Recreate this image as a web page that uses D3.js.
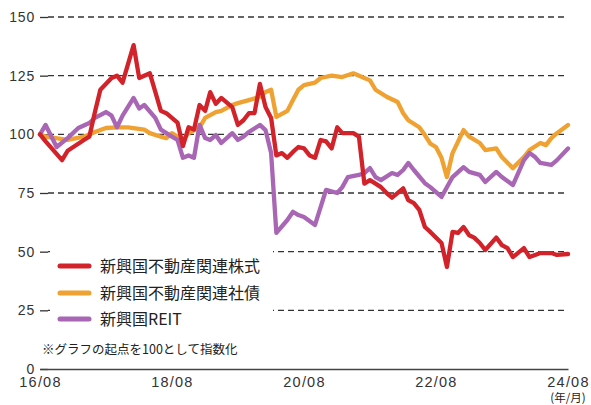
<!DOCTYPE html>
<html>
<head>
<meta charset="utf-8">
<script src="https://cdn.jsdelivr.net/npm/d3@7"></script>
<style>
  body { margin: 0; background: #fff; }
  .tick text { font-family: "Liberation Sans", Arial, sans-serif; fill: #333; }
  .jp { font-family: "Noto Sans CJK JP", sans-serif; fill: #222; }
</style>
</head>
<body>
<div id="chart"></div>
<script>
// Series data: [year-month, index value]
const stockSeries = [
  ["2016-08", 100], ["2016-09", 97], ["2016-12", 89], ["2017-01", 93], ["2017-04", 97.6],
  ["2017-05", 99], ["2017-06", 109.5], ["2017-07", 119], ["2017-09", 124], ["2017-10", 125],
  ["2017-11", 122], ["2018-01", 138], ["2018-02", 124], ["2018-04", 126], ["2018-06", 110],
  ["2018-07", 109], ["2018-09", 105], ["2018-10", 95], ["2018-11", 103], ["2018-12", 102],
  ["2019-01", 112.5], ["2019-02", 110], ["2019-03", 118], ["2019-04", 113], ["2019-05", 115.5],
  ["2019-07", 111.6], ["2019-08", 104], ["2019-09", 106], ["2019-10", 109], ["2019-11", 109],
  ["2019-12", 121.5], ["2020-01", 111.6], ["2020-02", 107], ["2020-03", 91], ["2020-04", 92],
  ["2020-05", 90], ["2020-06", 92.5], ["2020-07", 94.6], ["2020-08", 94], ["2020-09", 91],
  ["2020-10", 90], ["2020-11", 97.6], ["2020-12", 97], ["2021-01", 94], ["2021-02", 103],
  ["2021-03", 100.5], ["2021-05", 100.5], ["2021-06", 99], ["2021-07", 79], ["2021-08", 80.5],
  ["2021-09", 79], ["2021-10", 77.5], ["2021-11", 75], ["2021-12", 73], ["2022-02", 77],
  ["2022-03", 72], ["2022-04", 70.7], ["2022-05", 67.8], ["2022-06", 60.5], ["2022-07", 58.4],
  ["2022-08", 56], ["2022-09", 53.7], ["2022-10", 43.5], ["2022-11", 58.4], ["2022-12", 58],
  ["2023-01", 60.5], ["2023-02", 57], ["2023-03", 56], ["2023-04", 53.7], ["2023-05", 50.7],
  ["2023-07", 56], ["2023-08", 52.8], ["2023-09", 51.5], ["2023-10", 47.7], ["2023-12", 51.5],
  ["2024-01", 47.7], ["2024-02", 48.6], ["2024-03", 49.4], ["2024-05", 49.4], ["2024-06", 48.6],
  ["2024-08", 49]
];

const bondSeries = [
  ["2016-08", 100], ["2016-09", 99], ["2017-01", 97.6], ["2017-04", 99], ["2017-06", 101],
  ["2017-08", 102.7], ["2017-10", 103], ["2017-12", 103], ["2018-03", 102], ["2018-04", 100.5],
  ["2018-06", 99], ["2018-07", 98.4], ["2018-08", 100.5], ["2018-10", 97.6], ["2018-11", 100.5],
  ["2019-01", 103], ["2019-02", 107], ["2019-04", 109.5], ["2019-05", 110], ["2019-07", 112.5],
  ["2019-08", 113.3], ["2019-10", 114.6], ["2019-12", 116], ["2020-01", 118], ["2020-02", 119],
  ["2020-03", 107.4], ["2020-05", 110], ["2020-06", 114.6], ["2020-07", 119], ["2020-08", 121],
  ["2020-10", 122], ["2020-11", 124], ["2021-01", 125], ["2021-03", 124.4], ["2021-05", 126],
  ["2021-07", 124], ["2021-08", 123], ["2021-09", 119], ["2021-11", 116], ["2022-01", 113.8],
  ["2022-02", 109], ["2022-03", 106], ["2022-05", 103], ["2022-06", 99.7], ["2022-07", 96],
  ["2022-08", 94.6], ["2022-09", 90], ["2022-10", 81.8], ["2022-11", 92], ["2023-01", 101.8],
  ["2023-02", 99], ["2023-04", 96.3], ["2023-05", 93.3], ["2023-07", 94], ["2023-08", 90.3],
  ["2023-10", 85.6], ["2023-12", 90.3], ["2024-01", 93.3], ["2024-03", 96.3], ["2024-04", 95.4],
  ["2024-05", 98.4], ["2024-06", 100.5], ["2024-08", 104]
];

const reitSeries = [
  ["2016-08", 100], ["2016-09", 104], ["2016-11", 94.6], ["2017-01", 98.4], ["2017-03", 102.7],
  ["2017-05", 104.8], ["2017-06", 107], ["2017-08", 109.5], ["2017-09", 108], ["2017-10", 103],
  ["2017-11", 108], ["2018-01", 115.5], ["2018-02", 111], ["2018-03", 112.5], ["2018-05", 107],
  ["2018-06", 102], ["2018-08", 99], ["2018-09", 97.6], ["2018-10", 90], ["2018-11", 91],
  ["2018-12", 90], ["2019-01", 104], ["2019-02", 98.4], ["2019-03", 97.6], ["2019-04", 99.7],
  ["2019-05", 96.3], ["2019-07", 100.5], ["2019-08", 97.6], ["2019-09", 99], ["2019-10", 101],
  ["2019-12", 104], ["2020-01", 101.8], ["2020-02", 92], ["2020-03", 58], ["2020-05", 63.5],
  ["2020-06", 67], ["2020-07", 65.6], ["2020-08", 64.8], ["2020-10", 61.4], ["2020-11", 69],
  ["2020-12", 76.3], ["2021-02", 75], ["2021-03", 77.5], ["2021-04", 81.8], ["2021-06", 82.7],
  ["2021-07", 83.5], ["2021-08", 85.6], ["2021-09", 81.8], ["2021-10", 80.5], ["2021-12", 83.5],
  ["2022-01", 82.7], ["2022-02", 84.8], ["2022-03", 87.8], ["2022-04", 84.8], ["2022-06", 79.2],
  ["2022-07", 77.5], ["2022-09", 73.3], ["2022-11", 81.8], ["2023-01", 86], ["2023-02", 84],
  ["2023-04", 82.7], ["2023-05", 79.7], ["2023-07", 84], ["2023-08", 81.8], ["2023-10", 78.4],
  ["2023-12", 89], ["2024-01", 92], ["2024-02", 90.3], ["2024-03", 87.8], ["2024-05", 87],
  ["2024-06", 89], ["2024-08", 94]
];

const seriesNames = ["新興国不動産関連株式", "新興国不動産関連社債", "新興国REIT"];
const seriesColors = ["#d2222a", "#efa232", "#a866b4"];
const yTicks = [0, 25, 50, 75, 100, 125, 150];
const xTicks = ["2016-08", "2018-08", "2020-08", "2022-08", "2024-08"];
const noteText = "※グラフの起点を100として指数化";
const unitText = "(年/月)";

const width = 591;
const height = 405;

const parseMonth = d3.timeParse("%Y-%m");

const svg = d3.select("#chart")
  .append("svg")
  .attr("width", width)
  .attr("height", height);

// Scales
const x = d3.scaleTime()
  .domain([parseMonth("2016-08"), parseMonth("2024-08")])
  .range([40, 568]);

const y = d3.scaleLinear()
  .domain([0, 150])
  .range([369, 17]);

// Dashed grid lines (not for zero, that one is the axis)
svg.append("g")
  .selectAll("line")
  .data(yTicks.filter(d => d > 0))
  .join("line")
  .attr("x1", 48)
  .attr("x2", 568)
  .attr("y1", d => y(d))
  .attr("y2", d => y(d))
  .attr("stroke", "#333")
  .attr("stroke-width", 1.3)
  .attr("stroke-dasharray", "6,4");

// Y axis: short solid ticks with labels
const yAxis = svg.append("g")
  .attr("transform", "translate(48,0)")
  .call(d3.axisLeft(y).tickValues(yTicks).tickSize(8).tickPadding(5));
yAxis.select(".domain").remove();
yAxis.selectAll(".tick line").attr("stroke", "#333").attr("stroke-width", 1.3);
yAxis.selectAll(".tick text")
  .style("font-size", "14px")
  .style("letter-spacing", "0.8px");

// X axis along zero
const xAxis = svg.append("g")
  .attr("transform", `translate(0,${y(0)})`)
  .call(d3.axisBottom(x)
    .tickValues(xTicks.map(parseMonth))
    .tickFormat(d3.timeFormat("%y/%m"))
    .tickSize(0)
    .tickSizeOuter(0)
    .tickPadding(8));
xAxis.select(".domain").attr("stroke", "#444").attr("stroke-width", 1.6);
xAxis.selectAll(".tick text")
  .style("font-size", "14.5px")
  .style("letter-spacing", "1.2px");

svg.append("text")
  .attr("class", "jp")
  .attr("x", x(parseMonth("2024-08")))
  .attr("y", 402)
  .attr("text-anchor", "middle")
  .style("font-size", "11.5px")
  .text(unitText);

// White panel behind the legend hides the grid there
svg.append("rect")
  .attr("x", 50)
  .attr("y", 243)
  .attr("width", 223)
  .attr("height", 88)
  .attr("fill", "#fff");

// Lines
const line = d3.line()
  .x(d => x(parseMonth(d[0])))
  .y(d => y(d[1]));

[bondSeries, reitSeries, stockSeries].forEach((s, i) => {
  const colorIndex = [1, 2, 0][i];
  svg.append("path")
    .datum(s)
    .attr("fill", "none")
    .attr("stroke", seriesColors[colorIndex])
    .attr("stroke-width", 4.3)
    .attr("stroke-linejoin", "round")
    .attr("stroke-linecap", "round")
    .attr("d", line);
});

// Legend
const legendY = [266, 293, 319];
const legend = svg.append("g");
seriesNames.forEach((name, i) => {
  legend.append("line")
    .attr("x1", 60)
    .attr("x2", 89)
    .attr("y1", legendY[i])
    .attr("y2", legendY[i])
    .attr("stroke", seriesColors[i])
    .attr("stroke-width", 5)
    .attr("stroke-linecap", "round");
  legend.append("text")
    .attr("class", "jp")
    .attr("x", 100)
    .attr("y", legendY[i])
    .attr("dy", "0.36em")
    .style("font-size", "16px")
    .text(name);
});

svg.append("text")
  .attr("class", "jp")
  .attr("x", 42)
  .attr("y", 354)
  .style("font-size", "12.5px")
  .text(noteText);
</script>
</body>
</html>
